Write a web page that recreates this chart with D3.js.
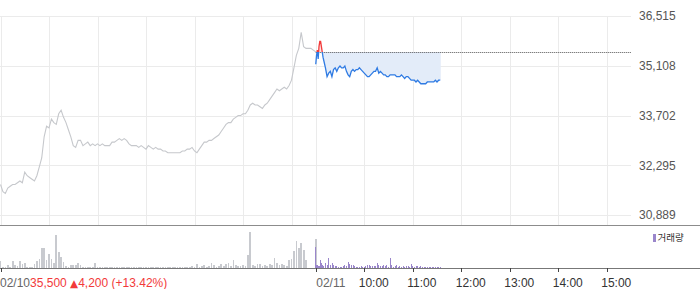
<!DOCTYPE html>
<html><head><meta charset="utf-8">
<script src="https://cdn.jsdelivr.net/npm/d3@7"></script>
<style>
html,body{margin:0;padding:0;background:#fff;}
svg{display:block;font-family:"Liberation Sans",Arial,sans-serif;}
</style></head>
<body><svg id="c" width="700" height="289"></svg>
<script>
// ---------- DATA ----------
const prevDayLabel = "02/10";
const todayLabel = "02/11";
const prevClose = 35500;
const prevChange = 4200;
const prevChangePct = 13.42;
const priceTicks = [30889, 32295, 33702, 35108, 36515];
const hourLabels = ["10:00", "11:00", "12:00", "13:00", "14:00", "15:00"];
const dayOpen = "09:00", dayClose = "15:30";
const day1Step = 3; // minutes between day-1 samples
const day1Prices = [
31750,31550,31500,31650,31700,31750,31750,31800,31850,31800,
32100,32000,31950,31900,31850,32000,32250,32500,33100,33400,
33350,33600,33500,33450,33750,33850,33650,33500,33300,33100,
32850,32800,33000,33000,32850,32900,32950,32850,32900,32850,
32900,32850,32900,32850,32850,32850,32950,32950,33000,33050,
33000,33050,33000,32900,32850,32850,32850,32800,32850,32800,
32750,32850,32800,32750,32800,32750,32750,32700,32700,32650,
32650,32650,32650,32650,32650,32700,32700,32750,32750,32800,
32700,32650,32750,32850,32950,32950,33000,33000,33050,33100,
33150,33250,33350,33450,33500,33500,33600,33650,33700,33700,
33750,33750,33850,34000,34050,34000,34000,33950,33900,34000,
34050,34150,34250,34350,34450,34400,34450,34500,34450,34550,
34700,35050,35400,35600,36050,35650,35600,35600,35600,35550,
35500];
const day1Volumes = [
6700,1000,1500,2700,1000,6700,2700,2500,7300,4000,
5000,1200,1500,1500,4000,6700,9300,20000,20000,8300,
14000,9000,5000,32700,16000,10700,6000,2000,1500,2700,
3000,3000,5000,2700,1000,1000,800,1200,1000,5000,
1500,1000,800,1000,1200,800,1000,1000,800,1200,
1000,800,1000,1200,1000,800,1000,1000,1200,800,
1000,800,1000,1200,1000,800,1000,1000,1200,1000,
800,1000,1200,1000,1000,800,1000,1200,1500,2500,
1500,4000,1500,2000,3000,1500,2000,5000,3300,1500,
2000,4000,2500,4000,5000,2500,7700,3000,2000,2500,
3000,2000,13300,36000,3000,2500,4000,4000,2500,3000,
2500,4000,3000,10000,5000,3000,4000,3000,2500,8300,
9000,17000,27000,20000,25000,18000,8000,0,0,0,
29300];
const day2Times = [
"09:00","09:01","09:02","09:03","09:04","09:05","09:06","09:07","09:08","09:09","09:10",
"09:12","09:14","09:16","09:18","09:20","09:22","09:24","09:26","09:28","09:30",
"09:32","09:34","09:36","09:38","09:40","09:42","09:44","09:46","09:48","09:50",
"09:52","09:54","09:56","09:58","10:00","10:02","10:04","10:06","10:08","10:10",
"10:12","10:14","10:16","10:18","10:20","10:22","10:24","10:26","10:28","10:30",
"10:32","10:34","10:36","10:38","10:40","10:42","10:44","10:46","10:48","10:50",
"10:52","10:54","10:56","10:58","11:00","11:02","11:04","11:06","11:08","11:10",
"11:12","11:14","11:16","11:18","11:20","11:22","11:24","11:26","11:28","11:30",
"11:32","11:34"];
const day2Prices = [
35150,35400,35550,35300,35650,35800,35800,35650,35500,35350,35250,
35050,34800,34900,34950,34800,35000,35050,34950,35050,35100,
35050,35050,35100,34950,34850,34800,34950,35000,34950,35000,
35000,35050,35000,34950,34900,34850,34800,34800,34850,34900,
34950,34950,35050,34900,34950,34900,34850,34850,34800,34800,
34850,34850,34850,34850,34800,34800,34800,34850,34800,34750,
34800,34800,34750,34700,34700,34700,34650,34700,34650,34600,
34600,34600,34600,34650,34650,34650,34650,34650,34700,34650,
34700,34700];
const day2Volumes = [
21000,2700,3300,2000,1500,2000,8300,5000,3300,2000,2000,
5000,2700,10000,2700,5000,2700,1700,1700,1000,1000,
1000,1700,2700,2000,6000,4000,2700,3300,2300,1000,
1500,1000,2000,1000,1500,1700,2700,3300,1700,1700,
1700,1700,5000,2700,1700,1700,2700,2300,2700,1500,
10000,2700,1500,2000,3000,1500,2000,1500,2500,1500,
2300,2000,1500,4000,2300,1500,2000,1700,1500,2300,
1300,1300,1000,1300,1300,1000,1300,1300,1000,1300,
1300,1000];
const legendLabel = "거래량";

// ---------- HELPERS ----------
const toMin = s => { const [h, m] = s.split(":").map(Number); return h * 60 + m; };
const openMin = toMin(dayOpen), sessionLen = toMin(dayClose) - openMin;
const day1 = day1Prices.map((p, i) => ({t: i * day1Step, p, v: day1Volumes[i]}));
const day2 = day2Times.map((s, i) => ({t: sessionLen + toMin(s) - openMin, p: day2Prices[i], v: day2Volumes[i]}));

// ---------- SCALES ----------
const svg = d3.select("#c");
const plotL = 0, plotR = 631, priceTop = 16, priceBot = 215, sepY = 225, volBase = 268, volTop = 228;
const x = d3.scaleLinear().domain([0, sessionLen * 2]).range([plotL + 0.5, plotR]);
const y = d3.scaleLinear().domain([priceTicks[0], priceTicks[priceTicks.length - 1]]).range([priceBot, priceTop]);
const yv = d3.scaleLinear().domain([0, 40000]).range([volBase, volTop]);
const crisp = v => Math.round(v) + 0.5;

// ---------- GRID ----------
const gridC = "#ebebeb";
const g = svg.append("g").attr("shape-rendering", "crispEdges");
priceTicks.forEach(v => {
  g.append("line").attr("x1", 0).attr("x2", plotR).attr("y1", crisp(y(v))).attr("y2", crisp(y(v)))
   .attr("stroke", gridC);
});
const vTimes = [];
for (let d = 0; d < 2; d++) {
  vTimes.push(d * sessionLen);
  hourLabels.forEach(h => vTimes.push(d * sessionLen + toMin(h) - openMin));
}
vTimes.forEach(t => {
  g.append("line").attr("x1", crisp(x(t))).attr("x2", crisp(x(t))).attr("y1", crisp(y(priceTicks[4]))).attr("y2", sepY)
   .attr("stroke", gridC);
});

// price axis labels
svg.append("g").selectAll("text").data(priceTicks).join("text")
  .attr("x", 639).attr("y", d => y(d)).attr("dy", "0.36em")
  .attr("font-size", 12).attr("fill", "#555").text(d => d3.format(",")(d));

// ---------- TODAY FILL ----------
const refY = y(prevClose);
svg.append("path").datum(day2)
  .attr("d", d3.area().x(d => x(d.t)).y0(refY).y1(d => Math.max(y(d.p), refY)))
  .attr("fill", "#e3ecf9");
svg.append("path").datum(day2)
  .attr("d", d3.area().x(d => x(d.t)).y0(refY).y1(d => Math.min(y(d.p), refY)))
  .attr("fill", "#fde3e3");
const last = day2[day2.length - 1];
svg.append("path")
  .attr("d", `M${x(last.t)},${refY}L${x(last.t)},${y(last.p)}`).attr("stroke", "#e3ecf9").attr("stroke-width", 1);

// reference dotted line
svg.append("line").attr("x1", x(sessionLen)).attr("x2", plotR)
  .attr("y1", Math.round(refY) + 0.5).attr("y2", Math.round(refY) + 0.5)
  .attr("stroke", "#555").attr("stroke-dasharray", "1,1");

// ---------- LINES ----------
const line = d3.line().x(d => x(d.t)).y(d => y(d.p));
svg.append("path").datum(day1).attr("d", line).attr("fill", "none")
  .attr("stroke", "#c6c8cc").attr("stroke-width", 1.1);

const defs = svg.append("defs");
defs.append("clipPath").attr("id", "above").append("rect")
  .attr("x", 0).attr("y", 0).attr("width", 700).attr("height", refY);
defs.append("clipPath").attr("id", "below").append("rect")
  .attr("x", 0).attr("y", refY).attr("width", 700).attr("height", 300);
svg.append("path").datum(day2).attr("d", line).attr("fill", "none")
  .attr("stroke", "#2f7be3").attr("stroke-width", 1.3).attr("clip-path", "url(#below)");
svg.append("path").datum(day2).attr("d", line).attr("fill", "none")
  .attr("stroke", "#f23a3a").attr("stroke-width", 1.3).attr("clip-path", "url(#above)");

// ---------- SEPARATOR ----------
svg.append("line").attr("x1", 0).attr("x2", 700).attr("y1", sepY + 0.5).attr("y2", sepY + 0.5)
  .attr("stroke", "#8c8c8c").attr("shape-rendering", "crispEdges");

// ---------- VOLUME ----------
const vb = svg.append("g").attr("shape-rendering", "crispEdges");
vb.selectAll("rect.d1").data(day1.filter(d => d.v > 0)).join("rect")
  .attr("x", d => x(d.t) - 0.8).attr("width", 1.7)
  .attr("y", d => yv(d.v)).attr("height", d => volBase - yv(d.v)).attr("fill", "#c8cacf");
vb.selectAll("rect.d2").data(day2).join("rect")
  .attr("x", d => x(d.t) - 0.4).attr("width", 1)
  .attr("y", d => yv(d.v)).attr("height", d => volBase - yv(d.v)).attr("fill", "#9a86cb");

// volume axis
svg.append("line").attr("x1", 0).attr("x2", 700).attr("y1", volBase + 0.5).attr("y2", volBase + 0.5)
  .attr("stroke", "#777").attr("shape-rendering", "crispEdges");
const tickTimes = [0, sessionLen].concat(hourLabels.map(h => sessionLen + toMin(h) - openMin));
svg.append("g").selectAll("line").data(tickTimes).join("line")
  .attr("x1", d => crisp(x(d))).attr("x2", d => crisp(x(d))).attr("y1", volBase).attr("y2", volBase + 4)
  .attr("stroke", "#444").attr("shape-rendering", "crispEdges");

// legend
svg.append("rect").attr("x", 653).attr("y", 234).attr("width", 3).attr("height", 8).attr("fill", "#9a86cb");
svg.append("text").attr("x", 657.5).attr("y", 238).attr("dy", "0.36em")
  .attr("font-family", "'Noto Sans CJK KR', sans-serif").attr("font-size", 9.5).attr("fill", "#333")
  .text(legendLabel);

// ---------- BOTTOM LABELS ----------
const by = 287;
const t1 = svg.append("text").attr("x", 0).attr("y", by).attr("font-size", 12);
t1.append("tspan").attr("fill", "#666").text(prevDayLabel);
t1.append("tspan").attr("fill", "#f23a3a").text(d3.format(",")(prevClose) + " ");
t1.append("tspan").attr("fill", "#f23a3a").attr("font-size", 10.5).attr("font-family", "'DejaVu Sans',sans-serif").text("▲");
t1.append("tspan").attr("fill", "#f23a3a").text(d3.format(",")(prevChange) + " (+" + prevChangePct.toFixed(2) + "%)");

svg.append("text").attr("x", x(sessionLen) + 0.5).attr("y", by).attr("font-size", 12).attr("fill", "#666").text(todayLabel);
svg.append("g").selectAll("text").data(hourLabels).join("text")
  .attr("x", d => x(sessionLen + toMin(d) - openMin) - 5.5).attr("y", by)
  .attr("font-size", 12).attr("fill", "#333").text(d => d);
</script></body></html>
